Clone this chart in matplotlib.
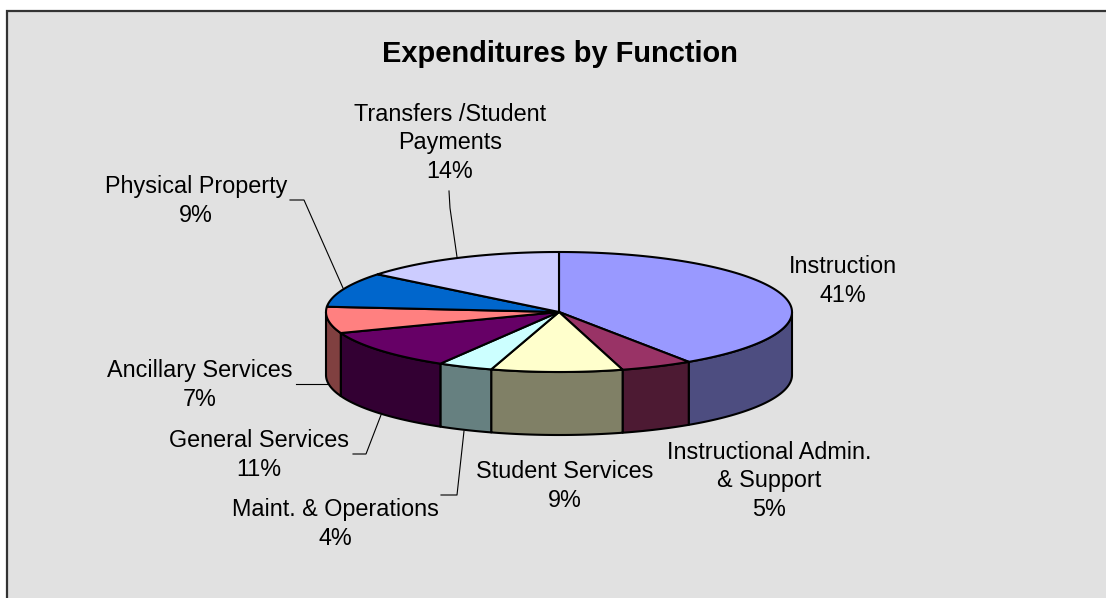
import matplotlib
matplotlib.use('Agg')
import matplotlib.pyplot as plt
import numpy as np

labels = ['Instruction', 'Instructional Admin.\n& Support', 'Student Services', 'Maint. & Operations',
          'General Services', 'Ancillary Services', 'Physical Property', 'Transfers /Student\nPayments']
values = [40.6, 5.0, 9.1, 3.8, 10.8, 7.1, 9.4, 14.2]
top_colors = ['#9999FF', '#993366', '#FFFFCC', '#CCFFFF', '#660066', '#FF8080', '#0066CC', '#CCCCFF']
side_colors = ['#4D4D80', '#4D1A33', '#808066', '#668080', '#330033', '#804040', '#003366', '#666680']
# centre of each label in pixels
label_pos = [(843, 281), (769, 481), (565, 486), (335, 524), (259, 455), (200, 385), (196, 201), (450, 143)]

cx, cy = 559, 312
rx, ry = 233, 60
depth = 63
edge = 'black'
lw = 1.5

fig = plt.figure(figsize=(11.06, 5.98), dpi=100)
ax = fig.add_axes([0, 0, 1, 1])
ax.set_xlim(0, 1106)
ax.set_ylim(598, 0)
ax.axis('off')
plt.rcParams['font.family'] = ['Liberation Sans', 'DejaVu Sans']

# chart area, runs off the right and bottom of the picture
ax.add_patch(plt.Rectangle((6.5, 11), 1200, 700, fc='#E1E1E1', ec='#333333', lw=1.6))


def arc(a0, a1):
    # angle in degrees clockwise from 12 o'clock
    t = np.radians(np.linspace(a0, a1, 120))
    return cx + rx*np.sin(t), cy - ry*np.cos(t)


angles = np.cumsum([0] + values) * 3.6

# side walls, only the front half of the pie shows
for i in range(len(values)):
    a0 = max(angles[i], 90)
    a1 = min(angles[i+1], 270)
    if a1 <= a0:
        continue
    x, y = arc(a0, a1)
    ax.fill(np.r_[x, x[::-1]], np.r_[y, y[::-1] + depth], fc=side_colors[i], ec=edge, lw=lw, joinstyle='round')

# top
for i in range(len(values)):
    x, y = arc(angles[i], angles[i+1])
    ax.fill(np.r_[cx, x], np.r_[cy, y], fc=top_colors[i], ec=edge, lw=lw, joinstyle='round')

# leader lines
leaders = [([290, 304, 343], [200, 200, 288]),
           ([449, 450, 457], [191, 208, 257]),
           ([296, 327], [384, 384]),
           ([353, 366, 381], [454, 454, 415]),
           ([441, 457, 464], [495, 495, 431])]
for lx, ly in leaders:
    ax.plot(lx, ly, color='black', lw=0.8)

ax.text(560, 53.5, 'Expenditures by Function', ha='center', va='center', fontsize=20.9, fontweight='bold')
for name, v, (tx, ty) in zip(labels, values, label_pos):
    ax.text(tx, ty, f'{name}\n{v:.0f}%', ha='center', va='center', fontsize=16.8, linespacing=1.33)

fig.savefig('out.png', dpi=100)
